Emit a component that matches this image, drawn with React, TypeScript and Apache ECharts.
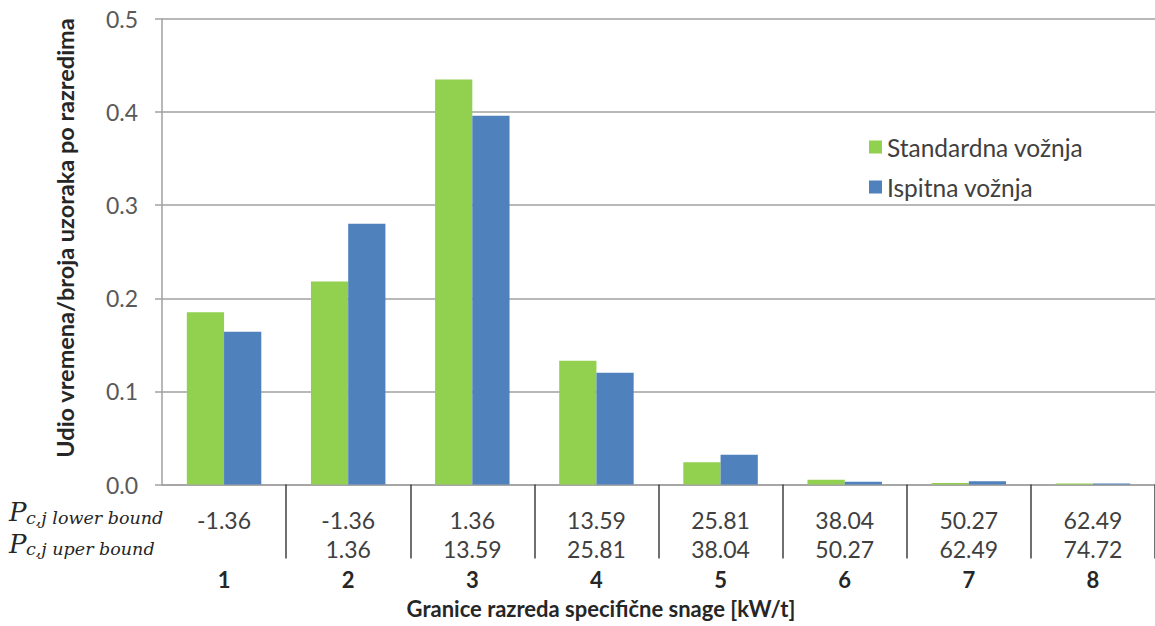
import React, { useEffect, useRef } from "react";
import * as echarts from "echarts";

const categories = ["1", "2", "3", "4", "5", "6", "7", "8"];
const lowerBounds = ["-1.36", "-1.36", "1.36", "13.59", "25.81", "38.04", "50.27", "62.49"];
const upperBounds = [" ", "1.36", "13.59", "25.81", "38.04", "50.27", "62.49", "74.72"];
const standardna = [0.185, 0.218, 0.435, 0.133, 0.024, 0.005, 0.0015, 0.001];
const ispitna = [0.164, 0.28, 0.396, 0.12, 0.032, 0.003, 0.0035, 0.001];
const seriesNames = ["Standardna vožnja", "Ispitna vožnja"];
const yTitle = "Udio vremena/broja uzoraka po razredima";
const xTitle = "Granice razreda specifične snage [kW/t]";

const FONT = "Lato, 'Open Sans', sans-serif";
const SERIF = "'DejaVu Serif', serif";

export default function App() {
  const ref = useRef<HTMLDivElement>(null);
  useEffect(() => {
    if (!ref.current) return;
    const chart = echarts.init(ref.current, null, { renderer: "svg" });
    chart.setOption({
      animation: false,
      backgroundColor: "#ffffff",
      grid: { left: 162, right: -1, top: 19, bottom: 141.5, containLabel: false },
      legend: {
        orient: "vertical",
        left: 864,
        top: 129,
        itemWidth: 13,
        itemHeight: 13,
        itemGap: 14,
        icon: "rect",
        textStyle: { fontFamily: FONT, fontSize: 24.5, lineHeight: 26, color: "#404040" },
        data: seriesNames,
      },
      xAxis: {
        type: "category",
        data: categories,
        axisLine: { lineStyle: { color: "#A0A0A0", width: 1.5 } },
        axisTick: {
          show: true,
          length: 74,
          interval: (idx: number) => idx >= 1,
          lineStyle: { color: "#404040", width: 1.5 },
        },
        axisLabel: {
          interval: 0,
          margin: 21,
          formatter: (val: string, idx: number) =>
            `{a|${lowerBounds[idx]}}\n{a|${upperBounds[idx]}}\n{n|${val}}`,
          rich: {
            a: { fontFamily: FONT, fontSize: 23, color: "#404040", lineHeight: 29 },
            n: { fontFamily: FONT, fontSize: 22, fontWeight: "bold", color: "#262626", lineHeight: 32 },
          },
        },
      },
      yAxis: {
        type: "value",
        min: 0,
        max: 0.5,
        interval: 0.1,
        axisLine: { show: true, lineStyle: { color: "#A0A0A0", width: 1.5 } },
        axisTick: { show: true, length: 7, lineStyle: { color: "#A0A0A0", width: 1.5 } },
        splitLine: { lineStyle: { color: "#A0A0A0", width: 1.5 } },
        axisLabel: {
          margin: 24,
          fontFamily: FONT,
          fontSize: 23,
          color: "#595959",
          formatter: (v: number) => v.toFixed(1),
        },
      },
      series: [
        {
          name: seriesNames[0],
          type: "bar",
          data: standardna,
          barGap: "0%",
          barCategoryGap: "40%",
          itemStyle: { color: "#92D050" },
        },
        {
          name: seriesNames[1],
          type: "bar",
          data: ispitna,
          barGap: "0%",
          barCategoryGap: "40%",
          itemStyle: { color: "#4F81BD" },
        },
      ],
      graphic: [
        {
          type: "text",
          x: 65,
          y: 238,
          rotation: Math.PI / 2,
          style: {
            text: yTitle,
            fontFamily: FONT,
            fontSize: 23.5,
            fontWeight: "bold",
            fill: "#262626",
            textAlign: "center",
            textVerticalAlign: "middle",
          },
        },
        {
          type: "text",
          x: 601,
          y: 608,
          style: {
            text: xTitle,
            fontFamily: FONT,
            fontSize: 22,
            fontWeight: "bold",
            fill: "#262626",
            textAlign: "center",
            textVerticalAlign: "middle",
          },
        },
        {
          type: "text",
          x: 9,
          y: 512,
          style: {
            text: "P",
            fontFamily: SERIF,
            fontStyle: "italic",
            fontSize: 26,
            fill: "#262626",
            textAlign: "left",
            textVerticalAlign: "middle",
          },
        },
        {
          type: "text",
          x: 26,
          y: 518,
          style: {
            text: "c,j lower bound",
            fontFamily: SERIF,
            fontStyle: "italic",
            fontSize: 17.5,
            fill: "#262626",
            textAlign: "left",
            textVerticalAlign: "middle",
          },
        },
        {
          type: "text",
          x: 9,
          y: 544,
          style: {
            text: "P",
            fontFamily: SERIF,
            fontStyle: "italic",
            fontSize: 26,
            fill: "#262626",
            textAlign: "left",
            textVerticalAlign: "middle",
          },
        },
        {
          type: "text",
          x: 26,
          y: 549,
          style: {
            text: "c,j uper bound",
            fontFamily: SERIF,
            fontStyle: "italic",
            fontSize: 17.5,
            fill: "#262626",
            textAlign: "left",
            textVerticalAlign: "middle",
          },
        },
      ],
    });
    return () => chart.dispose();
  }, []);
  return (
    <div
      ref={ref}
      style={{ position: "absolute", left: 0, top: 0, width: 1155, height: 626 }}
    />
  );
}
